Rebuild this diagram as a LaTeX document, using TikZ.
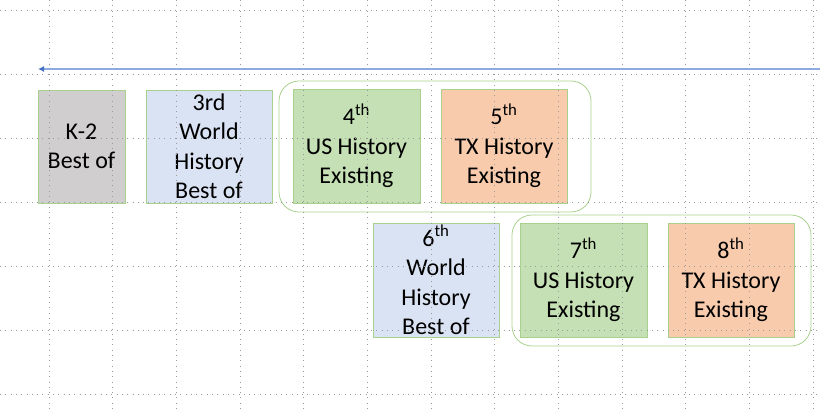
\documentclass[tikz,border=0pt]{standalone}
\usepackage{fontspec}
\setmainfont{Carlito}
\usetikzlibrary{arrows.meta}
\definecolor{gridc}{HTML}{9A9A9A}
\definecolor{bordc}{HTML}{A9D18E}
\definecolor{grayf}{HTML}{D0CECE}
\definecolor{bluef}{HTML}{DAE3F3}
\definecolor{greenf}{HTML}{C5E0B4}
\definecolor{orangef}{HTML}{F8CBAD}
\definecolor{arrowc}{HTML}{8FAADC}
\definecolor{tipc}{HTML}{4472C4}
\tikzset{
  box/.style={draw=bordc, line width=0.8pt, inner sep=0pt, align=center,
    font=\fontsize{24}{29.5}\selectfont, text=black},
  groupbox/.style={draw=bordc, line width=0.8pt, rounded corners=20pt, inner sep=0pt},
  gridline/.style={draw=gridc, line width=1pt, dash pattern=on 1pt off 4.3pt},
  timeline/.style={draw=arrowc, line width=1.6pt, -{Latex[length=6pt,width=6pt,color=tipc]}}
}
\begin{document}
\begin{tikzpicture}[x=1pt,y=-1pt]
\useasboundingbox (0,0) rectangle (820,411);
% groups
\node[groupbox, minimum width=312pt, minimum height=131pt] (g1) at (435,146.5) {};
\node[groupbox, minimum width=299pt, minimum height=131pt] (g2) at (661.5,280.5) {};
% boxes
\node[box, fill=grayf, minimum width=87pt, minimum height=113pt] (k2) at (81.5,146.5) {K-2\\Best of};
\node[box, fill=bluef, minimum width=126pt, minimum height=113pt] (g3) at (209,146.5) {3rd\\World\\History\\Best of};
\node[box, fill=greenf, minimum width=127pt, minimum height=114pt] (g4) at (356.5,146) {4\textsuperscript{th}\\US History\\Existing};
\node[box, fill=orangef, minimum width=126pt, minimum height=114pt] (g5) at (504,146) {5\textsuperscript{th}\\TX History\\Existing};
\node[box, fill=bluef, minimum width=126pt, minimum height=114pt] (g6) at (436,280) {6\textsuperscript{th}\\World\\History\\Best of};
\node[box, fill=greenf, minimum width=127pt, minimum height=114pt] (g7) at (583.5,280) {7\textsuperscript{th}\\US History\\Existing};
\node[box, fill=orangef, minimum width=126pt, minimum height=114pt] (g8) at (731,280) {8\textsuperscript{th}\\TX History\\Existing};
% grid on top
\foreach \k in {0,...,12} {
  \draw[gridline] ({49+63.67*\k},0) -- ({49+63.67*\k},411);
}
\foreach \k in {0,...,6} {
  \draw[gridline] (0,{11+64*\k}) -- (820,{11+64*\k});
}
% timeline arrow
\coordinate (tstart) at (820,69);
\coordinate (tend) at (38,69);
\draw[timeline] (tstart) -- (tend);
\end{tikzpicture}
\end{document}
